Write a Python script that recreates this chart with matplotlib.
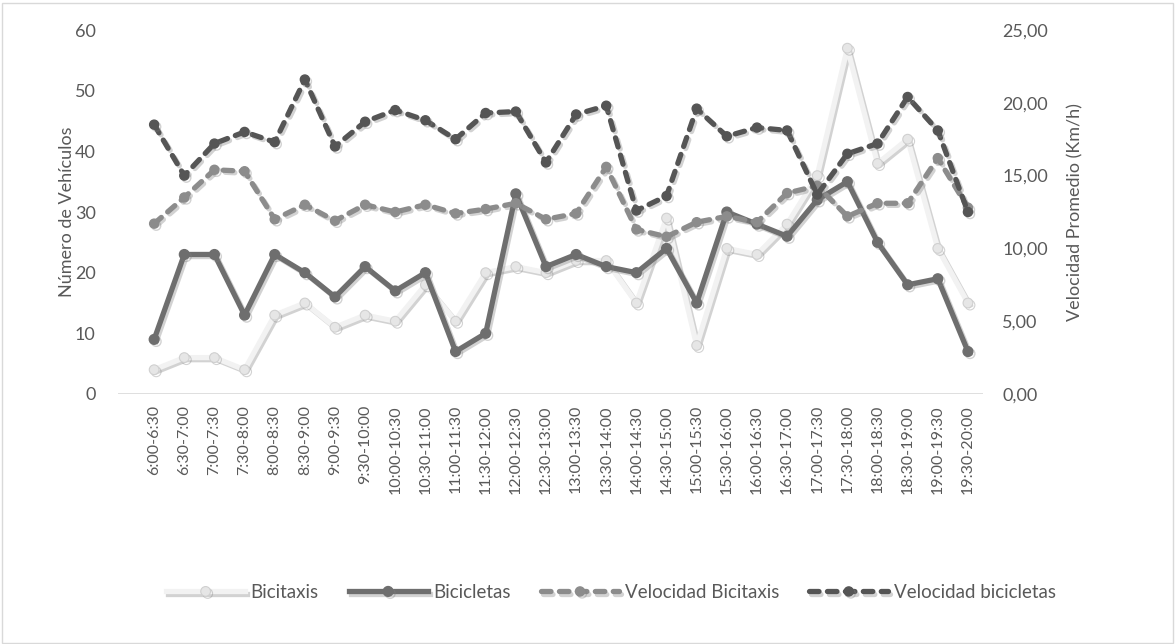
import matplotlib
matplotlib.use('Agg')
import matplotlib.pyplot as plt
import matplotlib.patheffects as pe
from matplotlib.ticker import FuncFormatter, MultipleLocator
from matplotlib.patches import Rectangle

# --- data ---
intervalos = ['6:00-6:30', '6:30-7:00', '7:00-7:30', '7:30-8:00', '8:00-8:30', '8:30-9:00',
              '9:00-9:30', '9:30-10:00', '10:00-10:30', '10:30-11:00', '11:00-11:30',
              '11:30-12:00', '12:00-12:30', '12:30-13:00', '13:00-13:30', '13:30-14:00',
              '14:00-14:30', '14:30-15:00', '15:00-15:30', '15:30-16:00', '16:00-16:30',
              '16:30-17:00', '17:00-17:30', '17:30-18:00', '18:00-18:30', '18:30-19:00',
              '19:00-19:30', '19:30-20:00']

bicitaxis = [4, 6, 6, 4, 13, 15, 11, 13, 12, 18, 12, 20, 21, 20, 22, 22, 15, 29, 8, 24,
             23, 28, 36, 57, 38, 42, 24, 15]
bicicletas = [9, 23, 23, 13, 23, 20, 16, 21, 17, 20, 7, 10, 33, 21, 23, 21, 20, 24, 15, 30,
              28, 26, 32, 35, 25, 18, 19, 7]
vel_bicitaxis = [11.7, 13.5, 15.4, 15.3, 12.0, 13.0, 11.9, 13.0, 12.5, 13.0, 12.4, 12.7,
                 13.1, 12.0, 12.4, 15.6, 11.3, 10.8, 11.8, 12.2, 11.8, 13.8, 14.3, 12.2,
                 13.1, 13.1, 16.2, 12.8]
vel_bicicletas = [18.5, 15.0, 17.2, 18.0, 17.3, 21.6, 17.0, 18.7, 19.5, 18.8, 17.5, 19.3,
                  19.4, 15.9, 19.2, 19.8, 12.6, 13.6, 19.6, 17.7, 18.3, 18.1, 13.7, 16.5,
                  17.2, 20.4, 18.1, 12.5]

txt = '#595959'
plt.rcParams['font.family'] = ['Lato', 'DejaVu Sans']

fig = plt.figure(figsize=(11.75, 6.44), dpi=100)
fig.patches.append(Rectangle((0.002, 0.002), 0.996, 0.994, transform=fig.transFigure,
                             fill=False, edgecolor='#d9d9d9', linewidth=1))
ax = fig.add_axes([0.1004, 0.3882, 0.7362, 0.5652])
ax2 = ax.twinx()

shadow = [pe.SimpleLineShadow(offset=(1.5, -1.5), shadow_color='#808080', alpha=0.35),
          pe.Normal()]
x = list(range(len(intervalos)))

l1, = ax.plot(x, bicitaxis, color='#f2f2f2', lw=3.8, marker='o', ms=7,
              mfc='#e6e6e6', mec='#d0d0d0', mew=0.8, path_effects=shadow, label='Bicitaxis')
l2, = ax.plot(x, bicicletas, color='#6e6e6e', lw=3.8, marker='o', ms=7,
              mfc='#6e6e6e', mec='#6e6e6e', path_effects=shadow, label='Bicicletas')
l3, = ax2.plot(x, vel_bicitaxis, color='#8c8c8c', lw=3.8, ls=(0, (1.8, 1.6)),
               dash_capstyle='round', marker='o', ms=6.5, mfc='#8c8c8c', mec='#8c8c8c',
               path_effects=shadow, label='Velocidad Bicitaxis')
l4, = ax2.plot(x, vel_bicicletas, color='#555555', lw=3.8, ls=(0, (1.8, 1.6)),
               dash_capstyle='round', marker='o', ms=6.5, mfc='#555555', mec='#555555',
               path_effects=shadow, label='Velocidad bicicletas')

ax.set_xlim(-1.2, len(intervalos) - 0.5)
ax.set_ylim(0, 60)
ax2.set_ylim(0, 25)
ax.yaxis.set_major_locator(MultipleLocator(10))
ax2.yaxis.set_major_locator(MultipleLocator(5))
ax2.yaxis.set_major_formatter(FuncFormatter(lambda v, p: f'{v:.2f}'.replace('.', ',')))

ax.set_xticks(x)
ax.set_xticklabels(intervalos, rotation=90, fontsize=11.5, color=txt)
for a in (ax, ax2):
    for s in a.spines.values():
        s.set_visible(False)
    a.tick_params(length=0, labelsize=13, labelcolor=txt)
ax.tick_params(axis='x', labelsize=11.5, pad=8)
ax.tick_params(axis='y', pad=16)
ax2.tick_params(axis='y', pad=14)
ax.axhline(0, color='#d9d9d9', lw=1.2, zorder=0)

ax.set_ylabel('Número de Vehículos', fontsize=13, color=txt, labelpad=0)
ax2.set_ylabel('Velocidad Promedio (Km/h)', fontsize=13, color=txt, labelpad=14)

fig.legend(handles=[l1, l2, l3, l4], loc='center', bbox_to_anchor=(0.52, 0.08), ncol=4,
           frameon=False, fontsize=13.5, labelcolor=txt, handlelength=4.2,
           columnspacing=1.6, handletextpad=0.3)

fig.savefig('out.png', dpi=100)
